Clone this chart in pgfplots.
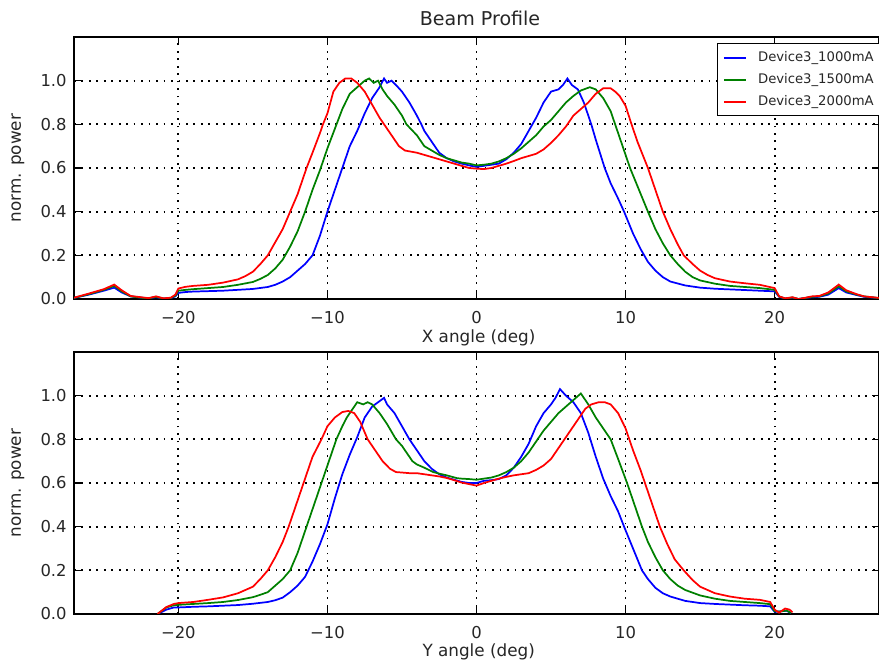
\documentclass[border=0pt]{standalone}
\usepackage{fontspec}
\setmainfont{DejaVu Sans}
\usepackage{pgfplots}
\pgfplotsset{compat=1.18}

\definecolor{mplblue}{rgb}{0,0,1}
\definecolor{mplgreen}{rgb}{0,0.5,0}
\definecolor{mplred}{rgb}{1,0,0}

\pgfplotsset{
  beam/.style={
    scale only axis,
    width=603.75pt, height=196.5pt,
    xmin=-27, xmax=27, ymin=0, ymax=1.2,
    axis line style={black, line width=1pt},
    xtick={-20,-10,0,10,20},
    xticklabels={−20,−10,0,10,20},
    ytick={0,0.2,0.4,0.6,0.8,1.0},
    yticklabels={0.0,0.2,0.4,0.6,0.8,1.0},
    tick align=inside,
    major tick length=5pt,
    tick style={black, line width=0.8pt},
    ticklabel style={font=\fontsize{12.3}{14}\selectfont, text=black!85},
    xticklabel style={yshift=-6pt},
    yticklabel style={xshift=-2pt},
    grid=major,
    major grid style={black, line width=1.3pt, dash pattern=on 1.3pt off 4.3pt},
  },
  curve/.style={#1, line width=1.3pt, no markers},
}

\begin{document}
\begin{tikzpicture}
\path[use as bounding box] (0,0) rectangle (659.25pt,498pt);

% ---------------- X profile ----------------
\begin{axis}[beam, at={(55.5pt,273.75pt)}, anchor=south west,
  legend style={at={(0.7988,0.977)}, anchor=north west, draw=black,
    line width=1pt, fill=white, font=\fontsize{9.9}{12}\selectfont,
    row sep=3.5pt, inner xsep=4pt, inner ysep=4pt,
    cells={anchor=west, text=black!85}},
  legend image code/.code={\draw[#1] (0pt,0pt) -- (16.5pt,0pt); \path (23pt,0pt);},
]
\addplot[curve=mplblue] coordinates {
(-27,0.005) (-26,0.02) (-25,0.038) (-24.3,0.052) (-23.8,0.03) (-23.2,0.012)
(-22.5,0.006) (-22,0.003) (-21.5,0.008) (-21,0.002) (-20.5,0.004) (-20.2,0.012)
(-20,0.028) (-19.5,0.032) (-19,0.034) (-18,0.036) (-17,0.038) (-16,0.042)
(-15,0.046) (-14,0.055) (-13.5,0.065) (-13,0.08) (-12.5,0.1) (-12,0.13)
(-11.5,0.16) (-11,0.2) (-10.5,0.29) (-10,0.4) (-9.5,0.5) (-9,0.6) (-8.5,0.7)
(-8,0.77) (-7.5,0.85) (-7,0.92) (-6.5,0.97) (-6.2,1.01) (-6,0.99) (-5.7,1.0)
(-5.4,0.98) (-5,0.95) (-4.5,0.9) (-4,0.84) (-3.7,0.8) (-3.5,0.77) (-3,0.72)
(-2.5,0.67) (-2,0.645) (-1.5,0.63) (-1,0.62) (-0.5,0.612) (0,0.605) (0.5,0.61)
(1,0.615) (1.5,0.62) (2,0.64) (2.5,0.67) (3,0.71) (3.5,0.77) (4,0.83) (4.5,0.9)
(5,0.95) (5.5,0.96) (5.8,0.98) (6.1,1.01) (6.4,0.98) (6.8,0.96) (7.2,0.9)
(7.7,0.8) (8,0.73) (8.6,0.6) (9,0.53) (9.5,0.46) (9.9,0.4) (10.5,0.3) (11,0.23)
(11.25,0.2) (11.5,0.17) (12,0.13) (12.5,0.1) (13,0.08) (14,0.062) (15,0.052)
(16,0.047) (17,0.044) (18,0.041) (19,0.038) (20,0.035) (20.3,0.01) (20.7,0.002)
(21.2,0.006) (21.6,0.0) (22,0.004) (22.5,0.008) (23,0.01) (23.6,0.02)
(24.3,0.05) (24.8,0.03) (25.5,0.018) (26,0.01) (27,0.004)
};
\addlegendentry{Device3\_1000mA}
\addplot[curve=mplgreen] coordinates {
(-27,0.005) (-26,0.022) (-25,0.042) (-24.3,0.06) (-23.8,0.035) (-23.2,0.012)
(-22.5,0.006) (-22,0.003) (-21.5,0.01) (-21,0.002) (-20.5,0.005) (-20.2,0.015)
(-20,0.038) (-19.5,0.042) (-19,0.045) (-18,0.05) (-17,0.055) (-16,0.065)
(-15,0.078) (-14.5,0.092) (-14,0.11) (-13.5,0.14) (-13,0.18) (-12.5,0.24)
(-12,0.31) (-11.5,0.4) (-11,0.5) (-10.5,0.59) (-10,0.69) (-9.5,0.78) (-9,0.87)
(-8.5,0.94) (-8,0.97) (-7.5,1.0) (-7.2,1.01) (-6.9,0.99) (-6.6,1.0) (-6.3,0.96)
(-6,0.93) (-5.5,0.89) (-5,0.84) (-4.7,0.8) (-4,0.75) (-3.5,0.7) (-3,0.68)
(-2.5,0.66) (-2,0.645) (-1.5,0.635) (-1,0.625) (-0.5,0.62) (0,0.612) (0.5,0.615)
(1,0.62) (1.5,0.63) (2,0.645) (2.5,0.665) (3,0.69) (3.5,0.72) (4,0.75) (4.5,0.79)
(5,0.82) (5.5,0.86) (6,0.9) (6.5,0.93) (7,0.955) (7.6,0.97) (8,0.96) (8.5,0.92)
(9,0.86) (9.3,0.8) (9.8,0.7) (10.3,0.6) (10.9,0.5) (11.5,0.4) (12,0.32)
(12.5,0.255) (13,0.2) (13.5,0.16) (14,0.125) (14.5,0.1) (15,0.085) (16,0.07)
(17,0.06) (18,0.055) (19,0.05) (20,0.042) (20.3,0.012) (20.7,0.002) (21.2,0.007)
(21.6,0.0) (22,0.004) (22.5,0.01) (23,0.012) (23.6,0.025) (24.3,0.058)
(24.8,0.035) (25.5,0.02) (26,0.012) (27,0.004)
};
\addlegendentry{Device3\_1500mA}
\addplot[curve=mplred] coordinates {
(-27,0.006) (-26,0.025) (-25,0.045) (-24.3,0.066) (-23.8,0.04) (-23.2,0.014)
(-22.5,0.008) (-22,0.004) (-21.5,0.012) (-21,0.003) (-20.5,0.006) (-20.2,0.02)
(-20,0.048) (-19.5,0.056) (-19,0.06) (-18,0.065) (-17,0.075) (-16,0.09)
(-15.5,0.105) (-15,0.125) (-14.5,0.16) (-14,0.2) (-13.5,0.26) (-13,0.32)
(-12.5,0.4) (-12,0.48) (-11.4,0.6) (-11,0.67) (-10.5,0.76) (-10.3,0.8) (-10,0.85)
(-9.6,0.95) (-9.2,0.99) (-8.8,1.01) (-8.4,1.01) (-8,0.99) (-7.5,0.95) (-7,0.89)
(-6.5,0.83) (-6,0.78) (-5.5,0.73) (-5.2,0.7) (-4.8,0.68) (-4.4,0.675) (-4,0.67)
(-3.5,0.66) (-3,0.65) (-2.5,0.64) (-2,0.63) (-1.5,0.62) (-1,0.61) (-0.5,0.6)
(0,0.597) (0.5,0.595) (1,0.6) (1.5,0.61) (2,0.62) (2.5,0.632) (3,0.645)
(3.5,0.655) (4,0.665) (4.5,0.685) (5,0.715) (5.5,0.75) (6,0.79) (6.5,0.84)
(7,0.87) (7.5,0.9) (8,0.94) (8.5,0.965) (9,0.965) (9.3,0.95) (9.6,0.93)
(10,0.885) (10.4,0.8) (10.8,0.72) (11.5,0.6) (12,0.5) (12.5,0.4) (13,0.32)
(13.5,0.25) (13.9,0.2) (14.5,0.16) (15,0.13) (15.5,0.11) (16,0.095) (17,0.08)
(18,0.072) (19,0.065) (20,0.05) (20.3,0.012) (20.7,0.003) (21.2,0.008) (21.6,0.0)
(22,0.005) (22.5,0.012) (23,0.014) (23.6,0.03) (24.3,0.066) (24.8,0.04)
(25.5,0.022) (26,0.012) (27,0.005)
};
\addlegendentry{Device3\_2000mA}
\end{axis}

% ---------------- Y profile ----------------
\begin{axis}[beam, at={(55.5pt,37.5pt)}, anchor=south west]
\addplot[curve=mplblue] coordinates {
(-21.4,0) (-20.8,0.02) (-20.3,0.03) (-20,0.03) (-19,0.033) (-18,0.035) (-17,0.038)
(-16,0.041) (-15,0.047) (-14,0.055) (-13.5,0.063) (-13,0.075) (-12.5,0.1)
(-12,0.13) (-11.5,0.17) (-11,0.24) (-10.5,0.32) (-10,0.41) (-9.5,0.53) (-9,0.64)
(-8.5,0.73) (-8,0.81) (-7.5,0.9) (-7,0.95) (-6.6,0.97) (-6.2,0.99) (-6,0.96)
(-5.5,0.92) (-5,0.86) (-4.5,0.8) (-4,0.75) (-3.5,0.7) (-3,0.665) (-2.5,0.64)
(-2,0.625) (-1.5,0.615) (-1,0.605) (-0.5,0.6) (0,0.6) (0.5,0.61) (1,0.613)
(1.5,0.618) (2,0.635) (2.5,0.67) (3,0.72) (3.5,0.78) (4,0.86) (4.5,0.92) (5,0.96)
(5.3,0.99) (5.6,1.03) (6,1.0) (6.5,0.97) (7,0.92) (7.5,0.83) (8,0.72) (8.5,0.62)
(9,0.54) (9.5,0.47) (9.9,0.4) (10.5,0.3) (11.1,0.2) (11.5,0.16) (12,0.12)
(12.5,0.095) (13,0.08) (14,0.06) (15,0.05) (16,0.046) (17,0.043) (18,0.04)
(19,0.038) (19.7,0.035) (20,0.01) (20.4,0.012) (20.8,0.015) (21.1,0.005)
};
\addplot[curve=mplgreen] coordinates {
(-21.4,0) (-20.8,0.03) (-20.3,0.04) (-20,0.042) (-19,0.046) (-18,0.05) (-17,0.055)
(-16,0.064) (-15,0.077) (-14.5,0.088) (-14,0.1) (-13.5,0.13) (-13,0.16)
(-12.5,0.2) (-12,0.28) (-11.4,0.4) (-11,0.48) (-10.4,0.6) (-10,0.68) (-9.4,0.8)
(-9,0.86) (-8.7,0.9) (-8.3,0.94) (-8,0.97) (-7.6,0.96) (-7.3,0.97) (-7,0.96)
(-6.5,0.92) (-6,0.87) (-5.4,0.8) (-5,0.77) (-4.3,0.7) (-4,0.685) (-3.5,0.67)
(-2.9,0.65) (-2.5,0.643) (-2,0.635) (-1.3,0.622) (-1,0.62) (-0.5,0.618)
(0,0.615) (0.5,0.62) (1,0.625) (1.5,0.635) (2,0.65) (2.5,0.67) (3,0.7) (3.5,0.74)
(4,0.79) (4.5,0.84) (5,0.88) (5.5,0.92) (6,0.95) (6.5,0.98) (7,1.01) (7.5,0.96)
(8,0.9) (8.5,0.85) (9,0.8) (9.5,0.71) (10.1,0.6) (10.6,0.5) (11.1,0.4)
(11.5,0.33) (12,0.26) (12.5,0.2) (13,0.16) (13.5,0.13) (14,0.11) (15,0.085)
(16,0.07) (17,0.06) (18,0.055) (19,0.05) (19.7,0.045) (20,0.012) (20.4,0.012)
(20.8,0.016) (21.1,0.005)
};
\addplot[curve=mplred] coordinates {
(-21.4,0) (-20.8,0.032) (-20.3,0.046) (-20,0.05) (-19,0.055) (-18,0.065)
(-17,0.076) (-16,0.095) (-15,0.125) (-14.5,0.16) (-14,0.2) (-13.5,0.26)
(-13,0.33) (-12.6,0.4) (-12,0.52) (-11.6,0.6) (-11,0.72) (-10.4,0.8) (-10,0.86)
(-9.5,0.9) (-9,0.925) (-8.6,0.93) (-8.2,0.92) (-7.8,0.88) (-7.3,0.8) (-6.8,0.75)
(-6.3,0.7) (-5.8,0.665) (-5.4,0.65) (-5,0.648) (-4.5,0.645) (-4,0.645)
(-3.5,0.64) (-3,0.635) (-2.5,0.63) (-2,0.623) (-1.5,0.613) (-1,0.602)
(-0.5,0.595) (0,0.588) (0.5,0.6) (1,0.61) (1.5,0.62) (2,0.628) (2.5,0.635)
(3,0.64) (3.5,0.645) (4,0.66) (4.5,0.68) (5,0.71) (5.5,0.76) (6,0.81) (6.4,0.85)
(7,0.91) (7.3,0.94) (7.7,0.96) (8.2,0.97) (8.6,0.97) (9,0.96) (9.5,0.92)
(10,0.85) (10.5,0.75) (11,0.66) (11.3,0.6) (11.8,0.5) (12.3,0.4) (12.8,0.32)
(13.3,0.25) (13.9,0.2) (14.5,0.155) (15,0.125) (16,0.095) (17,0.08) (18,0.07)
(19,0.065) (19.7,0.055) (20,0.02) (20.3,0.006) (20.7,0.025) (21,0.02)
(21.2,0.008)
};
\end{axis}

% titles and axis labels
\node[font=\fontsize{14.3}{16}\selectfont, text=black!85] at (360pt,484.5pt) {Beam Profile};
\node[font=\fontsize{12.6}{15}\selectfont, text=black!85] at (359pt,244.5pt) {X angle (deg)};
\node[font=\fontsize{12.6}{15}\selectfont, text=black!85] at (359pt,9pt) {Y angle (deg)};
\node[font=\fontsize{12.6}{15}\selectfont, text=black!85, rotate=90] at (13.5pt,372pt) {norm. power};
\node[font=\fontsize{12.6}{15}\selectfont, text=black!85, rotate=90] at (13.5pt,135.75pt) {norm. power};
\end{tikzpicture}
\end{document}
